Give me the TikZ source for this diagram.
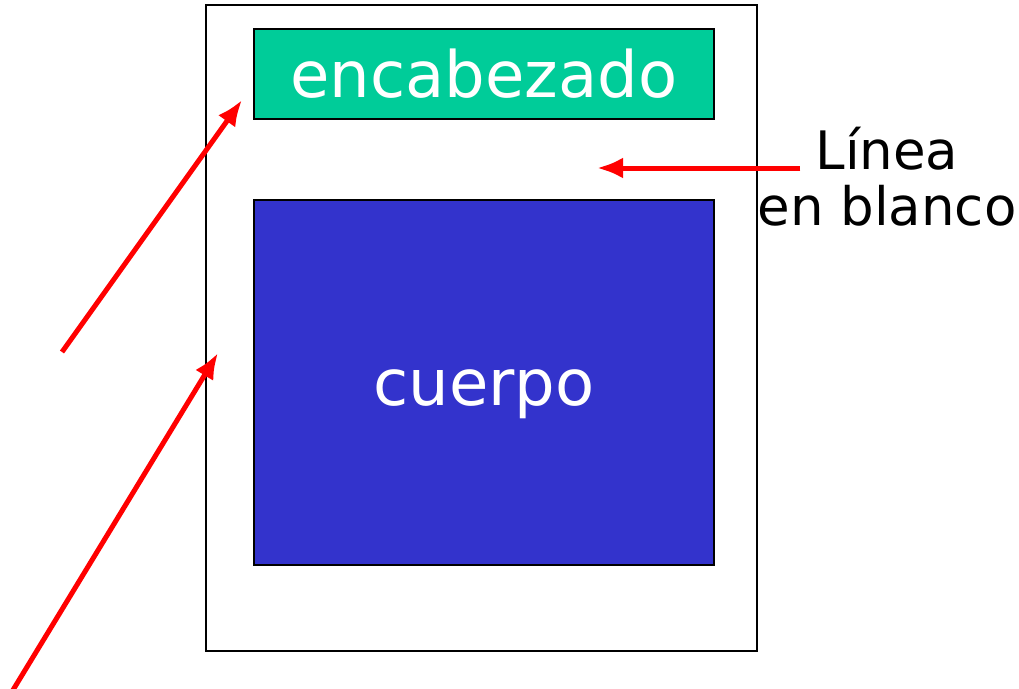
\documentclass[tikz,border=0pt]{standalone}
\usepackage{fontspec}
\setmainfont{DejaVu Sans}
\usetikzlibrary{arrows.meta}
\definecolor{headgreen}{RGB}{0,204,153}
\definecolor{bodyblue}{RGB}{51,51,204}
\begin{document}
\begin{tikzpicture}[x=1pt, y=-1pt,
  box/.style={draw=black, line width=1.5pt, inner sep=0pt, text=white,
    minimum width=460pt, font=\fontsize{64}{70}\selectfont},
  pointer/.style={draw=red, line width=5pt, -{Latex[length=26pt, width=21pt]}}]
\useasboundingbox (0,0) rectangle (1019,688);
% page with its two parts
\node[draw, line width=2pt, minimum width=551pt, minimum height=646pt, inner sep=0pt] (page) at (481.5,328) {};
\node[box, fill=headgreen, minimum height=90pt] (header) at (484,74) {encabezado};
\node[box, fill=bodyblue, minimum height=365pt, text height=45pt, text depth=0pt] (body) at (484,382.5) {cuerpo};
\node[align=center, font=\fontsize{53}{56}\selectfont, inner sep=0pt] (blank) at (887,177) {Línea\\en blanco};
% free ends of the pointers
\coordinate (gap) at (597,168);
\coordinate (a1) at (62,352);
\coordinate (a2) at (242,100);
\coordinate (b1) at (13,690);
\coordinate (b2) at (218,353);
\draw[pointer] (blank.west |- gap) ++(43,0) -- (gap);
\draw[pointer] (a1) -- (a2);
\draw[pointer] (b1) -- (b2);
\end{tikzpicture}
\end{document}
